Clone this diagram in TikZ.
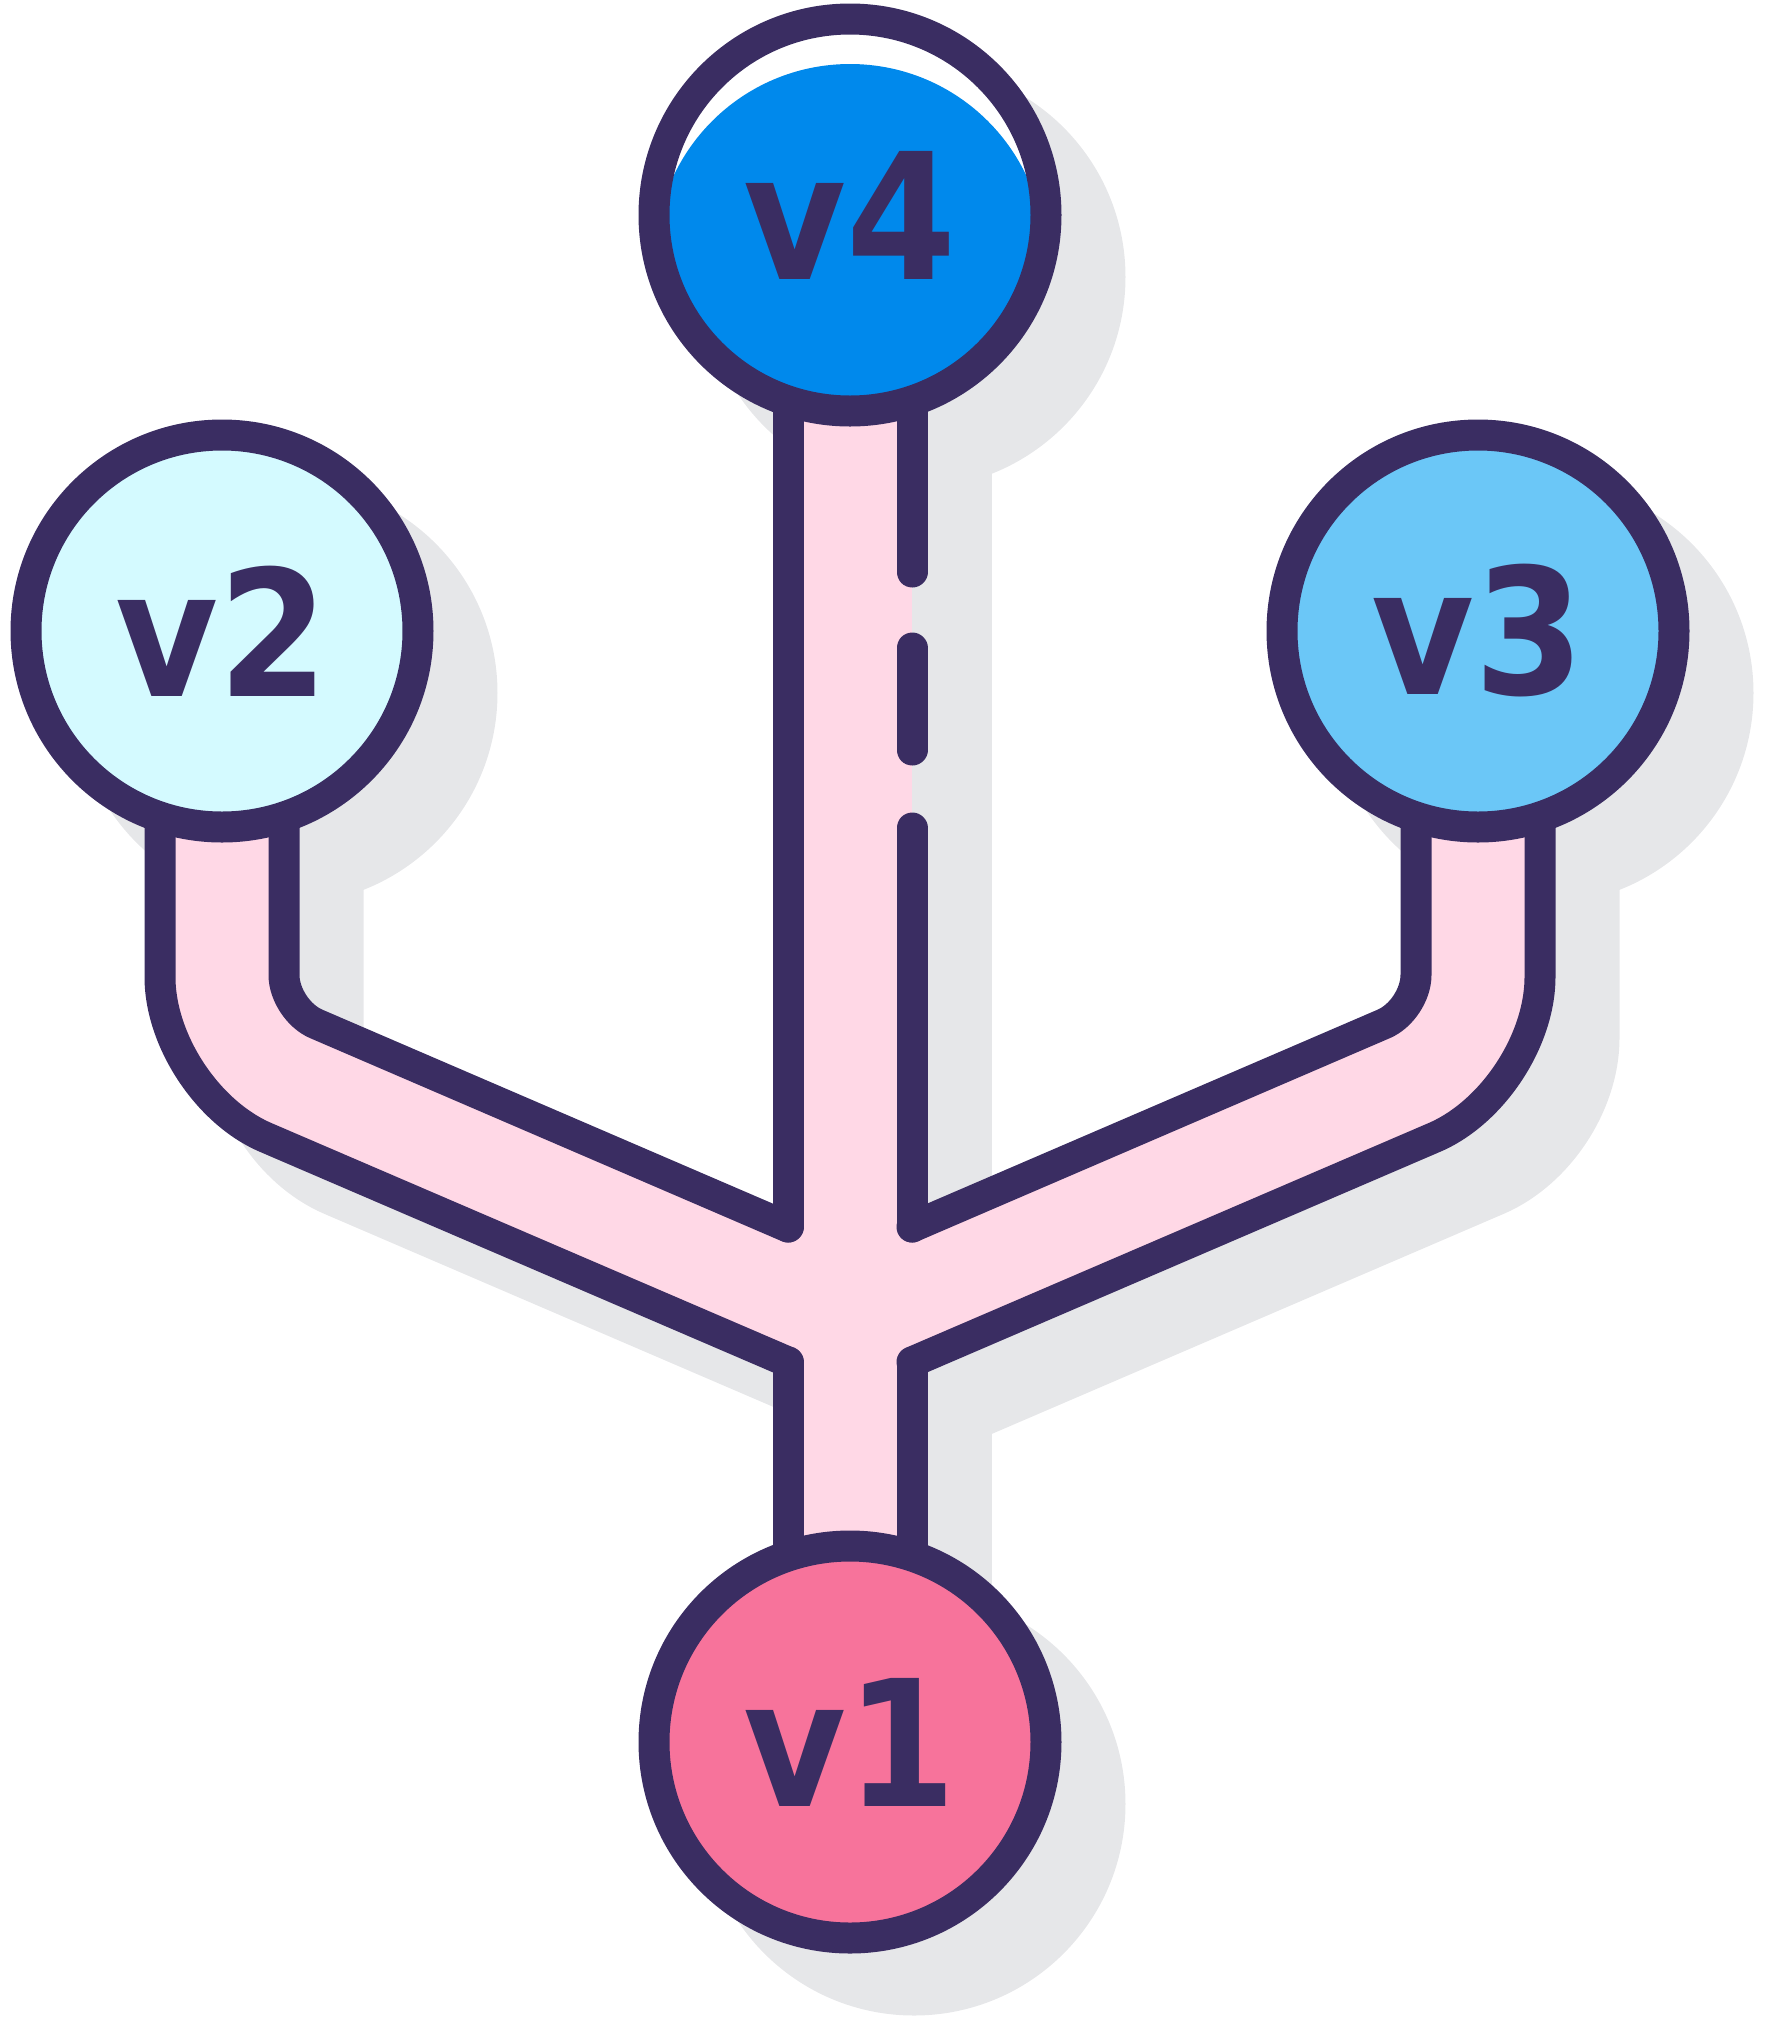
\documentclass[tikz,border=0pt]{standalone}
\usepackage{fontspec}
\newfontfamily\vfont[FakeStretch=0.9]{DejaVu Sans}
\usetikzlibrary{backgrounds}
\definecolor{ink}{HTML}{3A2D62}
\definecolor{tube}{HTML}{FFD8E6}
\definecolor{shadowgray}{HTML}{E6E7E9}
\definecolor{vone}{HTML}{F7739B}
\definecolor{vtwo}{HTML}{D4FAFF}
\definecolor{vthree}{HTML}{6BC7F7}
\definecolor{vfour}{HTML}{0089EC}
\tikzset{
  vert/.style={circle,draw=ink,line width=3.1mm,minimum size=39.2mm,inner sep=0pt,
    font=\vfont\bfseries\fontsize{50}{50}\selectfont,text=ink},
  rim/.style={draw=ink,line width=3.1mm,line cap=round,line join=round},
  pipe/.style={draw=tube,line width=12.4mm,rounded corners=7.5mm},
  drop/.style={draw=shadowgray,line width=15.5mm,rounded corners=7.5mm},
}
\begin{document}
\begin{tikzpicture}[x=0.1mm,y=-0.1mm]
\useasboundingbox (0,0) rectangle (1768,2024);
\coordinate (j) at (850,1321);
\foreach \n/\x/\y/\c in {v1/850/1742/vone, v2/222/631/vtwo, v3/1478/631/vthree}
  {\node[vert,fill=\c] (\n) at (\x,\y) {\n};}
\node[vert,fill=white,path picture={\fill[vfour] ([yshift=-4.4mm]path picture bounding box.center) circle (19.5mm);}] (v4) at (850,215) {v4};
\begin{scope}[on background layer]
  % shadow
  \begin{scope}[shift={(64,62)}]
    \foreach \x/\y in {850/215, 222/631, 1478/631, 850/1742}
      \fill[shadowgray] (\x,\y) circle (21.15mm);
    \draw[drop] (222,631) -- (222,1051) -- (850,1321);
    \draw[drop] (1478,631) -- (1478,1051) -- (850,1321);
    \draw[drop] (850,215) -- (850,1742);
  \end{scope}
  % pink tubes
  \draw[pipe] (v2.center) -- (222,1051) -- (j);
  \draw[pipe] (v3.center) -- (1478,1051) -- (j);
  \draw[pipe] (v4.center) -- (v1.center);
  % outlines
  \draw[rim,rounded corners=3.5mm] (284,631) -- (284,1010) -- (788,1227);
  \draw[rim,rounded corners=11.5mm] (160,631) -- (160,1092) -- (788,1362);
  \draw[rim,rounded corners=3.5mm] (1416,631) -- (1416,1010) -- (912,1227);
  \draw[rim,rounded corners=11.5mm] (1540,631) -- (1540,1092) -- (912,1362);
  \draw[rim] (788,215) -- (788,1227);
  \draw[rim] (788,1362) -- (788,1742);
  \draw[rim] (912,1362) -- (912,1742);
  \foreach \a/\b in {215/572, 648/750, 828/1227}
    \draw[rim] (912,\a) -- (912,\b);
\end{scope}
\end{tikzpicture}
\end{document}
